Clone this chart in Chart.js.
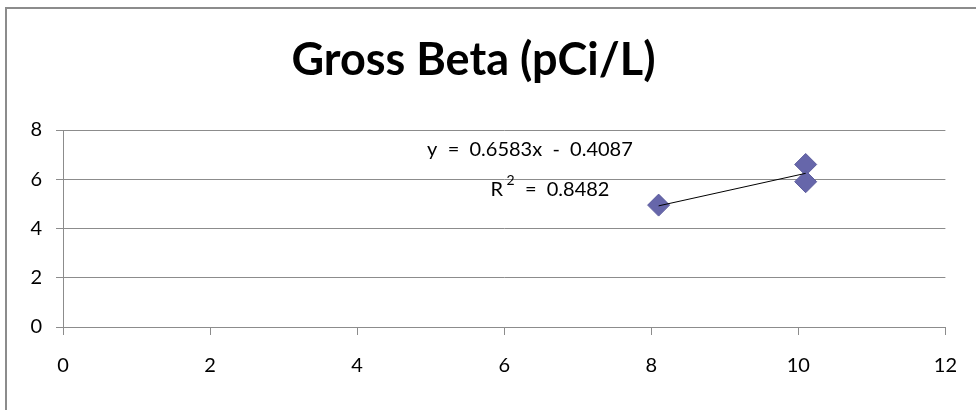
<!DOCTYPE html>
<html>
<head>
<meta charset="utf-8">
<script src="https://cdn.jsdelivr.net/npm/chart.js@4/dist/chart.umd.min.js"></script>
<style>
  html, body { margin: 0; padding: 0; background: #fff; }
  #wrap { width: 976px; height: 410px; }
</style>
</head>
<body>
<div id="wrap"><canvas id="grossBetaChart" width="976" height="410"></canvas></div>
<script>
// values
var sampleX = [8.1, 10.1, 10.1];
var sampleY = [4.95, 6.6, 5.9];
var trendX = [8.1, 10.1];
var trendY = [4.92, 6.24];
var xTicks = [0, 2, 4, 6, 8, 10, 12];
var yTicks = [0, 2, 4, 6, 8];
var equationText = 'y = 0.6583x - 0.4087';
var r2Text = '0.8482';

var FONT = 'Lato, Carlito, Calibri, "Open Sans", sans-serif';

var pagePlugin = {
  id: 'page',
  beforeDraw: function (chart) {
    var ctx = chart.ctx;
    ctx.save();
    ctx.fillStyle = '#fff';
    ctx.fillRect(0, 0, chart.width, chart.height);
    ctx.strokeStyle = '#8c8c8c';
    ctx.lineWidth = 2;
    ctx.strokeRect(6, 8, 2000, 2000);
    ctx.restore();
  }
};

var equationPlugin = {
  id: 'equation',
  afterDatasetsDraw: function (chart) {
    var ctx = chart.ctx;
    var xs = chart.scales.x, ys = chart.scales.y;
    var cx = xs.getPixelForValue(6.35);
    ctx.save();
    ctx.fillStyle = '#000';
    ctx.font = '20px ' + FONT;
    ctx.textBaseline = 'middle';
    ctx.textAlign = 'center';
    ctx.fillText(equationText.replace(/ /g, '  '), cx, ys.getPixelForValue(7.2));
    // R² line
    var y2 = ys.getPixelForValue(5.6);
    var rest = '  =  ' + r2Text;
    var wR = ctx.measureText('R').width;
    ctx.font = '14px ' + FONT;
    var wSup = ctx.measureText(' 2').width;
    ctx.font = '20px ' + FONT;
    var wRest = ctx.measureText(rest).width;
    var left = cx - (wR + wSup + wRest) / 2 + 20;
    ctx.textAlign = 'left';
    ctx.fillText('R', left, y2);
    ctx.font = '14px ' + FONT;
    ctx.fillText(' 2', left + wR, y2 - 9);
    ctx.font = '20px ' + FONT;
    ctx.fillText(rest, left + wR + wSup, y2);
    ctx.restore();
  }
};

var points = sampleX.map(function (x, i) { return { x: x, y: sampleY[i] }; });
var trend = trendX.map(function (x, i) { return { x: x, y: trendY[i] }; });

var chart = new Chart('grossBetaChart', {
  type: 'scatter',
  data: {
    datasets: [{
      label: 'Linear trend',
      type: 'line',
      data: trend,
      borderColor: '#000',
      borderWidth: 1,
      pointRadius: 0,
      fill: false,
      order: 1
    }, {
      label: 'Gross Beta',
      data: points,
      pointStyle: 'rectRot',
      pointRadius: 11,
      pointHoverRadius: 11,
      backgroundColor: '#6666aa',
      borderColor: '#5d5d9e',
      borderWidth: 1,
      order: 2
    }]
  },
  options: {
    responsive: false,
    animation: false,
    layout: { padding: { left: 0, right: 29, top: 0, bottom: 0 } },
    plugins: {
      legend: { display: false },
      tooltip: { enabled: false },
      title: {
        display: true,
        text: 'Gross Beta (pCi/L)',
        color: '#000',
        font: { family: FONT, size: 45, weight: 'bold', lineHeight: 1.2 },
        padding: { top: 33, bottom: 43 }
      }
    },
    scales: {
      x: {
        type: 'linear',
        min: 0,
        max: 12,
        afterBuildTicks: function (s) { s.ticks = xTicks.map(function (v) { return { value: v }; }); },
        afterFit: function (s) { s.height = 83; },
        grid: { drawOnChartArea: false, drawTicks: true, tickLength: 8, color: '#8c8c8c' },
        border: { display: true, color: '#8c8c8c', width: 1 },
        ticks: { color: '#000', font: { family: FONT, size: 20 }, padding: 19, maxRotation: 0 }
      },
      y: {
        min: 0,
        max: 8,
        afterBuildTicks: function (s) { s.ticks = yTicks.map(function (v) { return { value: v }; }); },
        afterFit: function (s) { s.width = 63; },
        grid: { drawOnChartArea: true, drawTicks: true, tickLength: 7, color: '#8c8c8c' },
        border: { display: true, color: '#8c8c8c', width: 1 },
        ticks: { color: '#000', font: { family: FONT, size: 20 }, padding: 14 }
      }
    }
  },
  plugins: [pagePlugin, equationPlugin]
});
</script>
</body>
</html>
